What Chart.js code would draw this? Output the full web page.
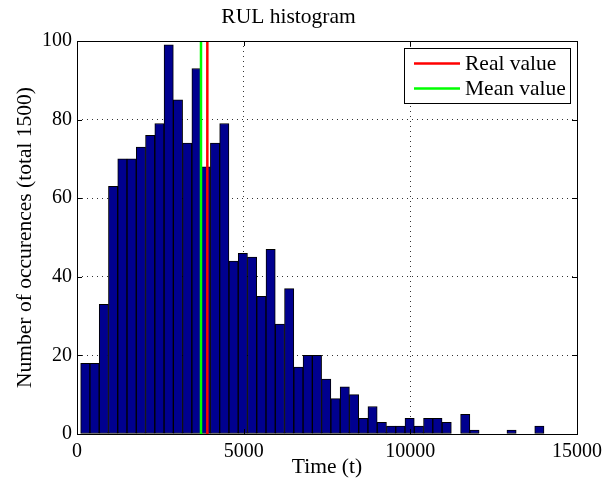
<!DOCTYPE html>
<html>
<head>
<meta charset="utf-8">
<script src="https://cdn.jsdelivr.net/npm/chart.js@4.4.1/dist/chart.umd.min.js"></script>
<style>
  html, body { margin: 0; padding: 0; background: #fff; }
  #wrap { width: 604px; height: 485px; }
</style>
</head>
<body>
<div id="wrap"><canvas id="c" width="604" height="485"></canvas></div>
<script>
// ---- data ----
const titleText = 'RUL histogram';
const xTitle = 'Time (t)';
const yTitle = 'Number of occurences (total 1500)';
const binCenters = [249, 527, 805, 1083, 1361, 1639, 1917, 2195, 2473, 2751,
  3029, 3307, 3585, 3863, 4141, 4419, 4697, 4975, 5253, 5531,
  5809, 6087, 6365, 6643, 6921, 7199, 7477, 7755, 8033, 8311,
  8589, 8867, 9145, 9423, 9701, 9979, 10257, 10535, 10813, 11091,
  11369, 11647, 11925, 12203, 12481, 12759, 13037, 13315, 13593, 13871];
const counts = [18, 18, 33, 63, 70, 70, 73, 76, 79, 99,
  85, 74, 93, 68, 74, 79, 44, 46, 45, 35,
  47, 28, 37, 17, 20, 20, 14, 9, 12, 10,
  4, 7, 3, 2, 2, 4, 2, 4, 4, 3,
  0, 5, 1, 0, 0, 0, 1, 0, 0, 2];
const realValue = 3910;
const meanValue = 3720;
const legendLabels = ['Real value', 'Mean value'];
const xTicks = [0, 5000, 10000, 15000];
const yTicks = [0, 20, 40, 60, 80, 100];

const FONT = "'Liberation Serif', 'Times New Roman', serif";
const BIG = 21.5;

const histData = binCenters.map((x, i) => ({ x: x, y: counts[i] }));

const framePlugin = {
  id: 'framePlugin',
  afterDraw(chart) {
    const ctx = chart.ctx;
    const a = chart.chartArea;
    const xs = chart.scales.x, ys = chart.scales.y;
    ctx.save();
    ctx.strokeStyle = '#000';
    ctx.lineWidth = 1;
    // inward tick marks
    const tl = 5;
    ctx.beginPath();
    xTicks.forEach(v => {
      const px = Math.round(xs.getPixelForValue(v)) + 0.5;
      ctx.moveTo(px, a.bottom); ctx.lineTo(px, a.bottom - tl);
      ctx.moveTo(px, a.top); ctx.lineTo(px, a.top + tl);
    });
    yTicks.forEach(v => {
      const py = Math.round(ys.getPixelForValue(v)) + 0.5;
      ctx.moveTo(a.left, py); ctx.lineTo(a.left + tl, py);
      ctx.moveTo(a.right, py); ctx.lineTo(a.right - tl, py);
    });
    ctx.stroke();
    // box
    ctx.strokeRect(Math.round(a.left) + 0.5, Math.round(a.top) + 0.5,
      Math.round(a.right - a.left), Math.round(a.bottom - a.top));
    // legend
    const lx = 404, ly = 48, lw = 166, lh = 55;
    ctx.fillStyle = '#fff';
    ctx.fillRect(lx, ly, lw, lh);
    ctx.strokeRect(lx + 0.5, ly + 0.5, lw, lh);
    const colors = ['#ff0000', '#00ff00'];
    const rows = [63.5, 88.5];
    ctx.font = BIG + 'px ' + FONT;
    ctx.textBaseline = 'middle';
    ctx.textAlign = 'left';
    legendLabels.forEach((t, i) => {
      ctx.strokeStyle = colors[i];
      ctx.lineWidth = 2.5;
      ctx.beginPath();
      ctx.moveTo(414, rows[i]); ctx.lineTo(460, rows[i]);
      ctx.stroke();
      ctx.fillStyle = '#000';
      ctx.fillText(t, 465, rows[i] + 1);
    });
    ctx.restore();
  }
};

new Chart(document.getElementById('c'), {
  type: 'bar',
  data: {
    datasets: [
      {
        type: 'bar',
        label: 'hist',
        data: histData,
        backgroundColor: '#00008f',
        borderColor: '#000000',
        borderWidth: 1,
        borderSkipped: false,
        barPercentage: 1.0,
        categoryPercentage: 1.0,
        order: 3
      },
      {
        type: 'line',
        label: legendLabels[1],
        data: [{ x: meanValue, y: 0 }, { x: meanValue, y: 100 }],
        borderColor: '#00ff00',
        borderWidth: 2.5,
        pointRadius: 0,
        fill: false,
        order: 2
      },
      {
        type: 'line',
        label: legendLabels[0],
        data: [{ x: realValue, y: 0 }, { x: realValue, y: 100 }],
        borderColor: '#ff0000',
        borderWidth: 2.5,
        pointRadius: 0,
        fill: false,
        order: 1
      }
    ]
  },
  options: {
    responsive: false,
    animation: false,
    devicePixelRatio: 1,
    layout: { padding: { left: 0, right: 27, top: 0, bottom: 0 } },
    plugins: {
      legend: { display: false },
      tooltip: { enabled: false },
      title: {
        display: true,
        text: titleText,
        color: '#000',
        font: { family: FONT, size: BIG, weight: 'normal' },
        padding: { top: 4, bottom: 11.2 }
      }
    },
    scales: {
      x: {
        type: 'linear',
        min: 0, max: 15000,
        offset: false,
        afterBuildTicks: s => { s.ticks = xTicks.map(v => ({ value: v })); },
        afterFit: s => { s.height = 51; s.paddingLeft = 0; s.paddingRight = 0; },
        ticks: {
          color: '#000',
          font: { family: FONT, size: 20 },
          padding: 6,
          maxRotation: 0,
          autoSkip: false,
          callback: v => String(v)
        },
        grid: {
          offset: false,
          drawTicks: false,
          color: '#333',
          lineWidth: 1
        },
        border: { display: false, dash: [1, 4] },
        title: {
          display: true,
          text: xTitle,
          color: '#000',
          font: { family: FONT, size: BIG },
          padding: { top: 0, bottom: 5 }
        }
      },
      y: {
        type: 'linear',
        min: 0, max: 100,
        afterBuildTicks: s => { s.ticks = yTicks.map(v => ({ value: v })); },
        afterFit: s => { s.width = 77; s.paddingTop = 0; s.paddingBottom = 0; },
        ticks: {
          color: '#000',
          font: { family: FONT, size: 20 },
          padding: 5,
          callback: v => String(v)
        },
        grid: {
          drawTicks: false,
          color: '#333',
          lineWidth: 1
        },
        border: { display: false, dash: [1, 4] },
        title: {
          display: true,
          text: yTitle,
          color: '#000',
          font: { family: FONT, size: BIG },
          padding: { top: 12, bottom: 0 }
        }
      }
    }
  },
  plugins: [framePlugin]
});
</script>
</body>
</html>
